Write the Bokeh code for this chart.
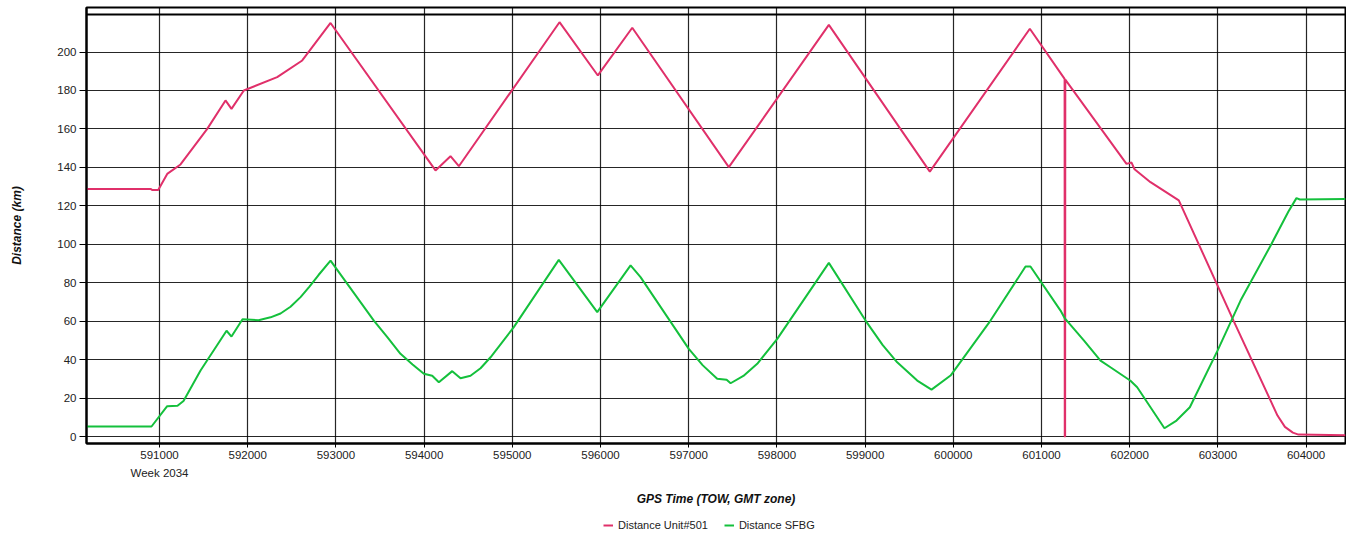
from bokeh.plotting import figure
from bokeh.layouts import column
from bokeh.models import (Range1d, FixedTicker, BasicTickFormatter, Legend, LegendItem, Span)
from bokeh.embed import file_html
from bokeh.resources import INLINE

# ---------------- data ----------------
red_x = [590172, 590898, 590920, 590985, 591087, 591238, 591541, 591748, 591816, 591956,
         592334, 592618, 592939, 594129, 594299, 594394, 595535, 595970, 596360, 597455,
         598589, 599734, 600868, 601262, 601264, 601268, 601270, 601964, 602021, 602055,
         602236, 602557, 603177, 603676, 603760, 603850, 603914, 604447]
red_y = [128.8, 128.8, 128.2, 128.2, 136.6, 141.5, 160.0, 174.8, 170.4, 180.0,
         186.9, 195.6, 215.1, 138.4, 145.8, 140.6, 215.5, 187.8, 212.6, 140.1,
         214.1, 137.8, 212.1, 186.0, 0.0, 0.0, 185.6, 141.8, 142.5, 139.0,
         132.3, 122.8, 60.3, 10.9, 5.0, 2.0, 1.0, 0.7]

green_x = [590172, 590909, 591087, 591204, 591272, 591465, 591760, 591816, 591941, 592122,
           592259, 592372, 592485, 592599, 592700, 592803, 592939, 593430, 593585, 593732,
           593869, 593997, 594092, 594167, 594319, 594413, 594526, 594640, 594753, 595017,
           595320, 595527, 595963, 596341, 596454, 597001, 597160, 597323, 597430, 597475,
           597620, 597777, 598004, 598589, 599005, 599200, 599364, 599591, 599753, 599969,
           600422, 600819, 600875, 601216, 601265, 601480, 601669, 601782, 602009, 602085,
           602394, 602531, 602682, 602996, 603257, 603600, 603800, 603891, 603930, 604447]
green_y = [5.2, 5.2, 15.8, 16.0, 18.5, 34.3, 55.0, 52.0, 61.0, 60.5,
           62.0, 64.0, 67.5, 72.5, 78.0, 84.0, 91.5, 60.3, 51.5, 43.0,
           37.5, 32.6, 31.6, 28.2, 34.0, 30.3, 31.6, 35.5, 41.2, 56.9,
           77.7, 91.9, 64.7, 89.0, 82.9, 45.6, 37.0, 30.0, 29.5, 27.7,
           31.5, 37.8, 50.8, 90.3, 60.3, 47.5, 38.6, 29.1, 24.4, 31.7,
           60.3, 88.4, 88.4, 65.5, 61.4, 50.0, 39.5, 36.0, 29.0, 25.6,
           4.3, 8.3, 15.2, 44.7, 70.7, 99.5, 117.0, 124.0, 123.3, 123.5]

x_ticks = list(range(591000, 604001, 1000))
y_ticks = list(range(0, 201, 20))
series_names = ["Distance Unit#501", "Distance SFBG"]
week_label = "Week 2034"

RED = "#E0306A"
GREEN = "#14C03C"
FONT = "Liberation Sans"
W = 1346

p = figure(width=W, height=512, output_backend="svg", toolbar_location=None,
           x_range=Range1d(590172, 604447), y_range=Range1d(-3.64, 223.15),
           min_border_left=86, min_border_right=1, min_border_top=7, min_border_bottom=69)

p.background_fill_color = "white"
p.border_fill_color = "white"
p.outline_line_color = "black"
p.outline_line_width = 2

# axes
xa = p.xaxis[0]
ya = p.yaxis[0]
xa.ticker = FixedTicker(ticks=x_ticks)
ya.ticker = FixedTicker(ticks=y_ticks)
xa.formatter = BasicTickFormatter(use_scientific=False)
xa.major_label_overrides = {591000: "591000\n" + week_label}
for ax in (xa, ya):
    ax.axis_line_color = "black"
    ax.axis_line_width = 2
    ax.major_tick_line_color = "black"
    ax.major_tick_in = 0
    ax.minor_tick_line_color = None
    ax.major_label_text_font = FONT
    ax.major_label_text_font_size = "11.5px"
    ax.major_label_text_color = "#222222"
    ax.axis_label_text_font = FONT
    ax.axis_label_text_font_size = "12px"
    ax.axis_label_text_font_style = "bold italic"
    ax.axis_label_text_color = "#111111"
xa.major_tick_out = 4
xa.major_label_standoff = 1
xa.major_label_text_line_height = 1.55
ya.major_tick_out = 7
ya.major_label_standoff = 3
xa.axis_label = "GPS Time (TOW, GMT zone)"
ya.axis_label = "Distance (km)"
xa.axis_label_standoff = 10
ya.axis_label_standoff = 30

p.xgrid.ticker = FixedTicker(ticks=x_ticks)
p.ygrid.ticker = FixedTicker(ticks=y_ticks)
for g in (p.xgrid[0], p.ygrid[0]):
    g.grid_line_color = "black"
    g.grid_line_alpha = 0.85
    g.grid_line_width = 1.2

# top inner border line
p.add_layout(Span(location=219.5, dimension="width", line_color="black", line_width=2))

p.line(red_x, red_y, line_color=RED, line_width=2)
p.line(green_x, green_y, line_color=GREEN, line_width=2)

# ---- legend strip below the chart ----
lg = figure(width=W, height=24, output_backend="svg", toolbar_location=None,
            x_range=Range1d(0, 1), y_range=Range1d(0, 1),
            x_axis_location=None, y_axis_location=None,
            min_border_left=0, min_border_right=0, min_border_top=0, min_border_bottom=0)
lg.grid.visible = False
lg.outline_line_color = None
lg.background_fill_color = "white"
lg.border_fill_color = "white"
nan = float("nan")
k1 = lg.line(x=[nan, nan], y=[nan, nan], line_color=RED, line_width=2)
k2 = lg.line(x=[nan, nan], y=[nan, nan], line_color=GREEN, line_width=2)

legend = Legend(items=[LegendItem(label=series_names[0], renderers=[k1]),
                       LegendItem(label=series_names[1], renderers=[k2])],
                location=(517, 5), orientation="horizontal",
                label_text_font=FONT, label_text_font_size="11px",
                label_text_color="#222222",
                glyph_width=10, glyph_height=10, spacing=16, padding=0,
                label_standoff=5, margin=0, label_height=13,
                border_line_color=None, background_fill_alpha=0)
lg.add_layout(legend, "center")

layout = column(p, lg, spacing=0)
open("out.html", "w").write(file_html(layout, INLINE))
